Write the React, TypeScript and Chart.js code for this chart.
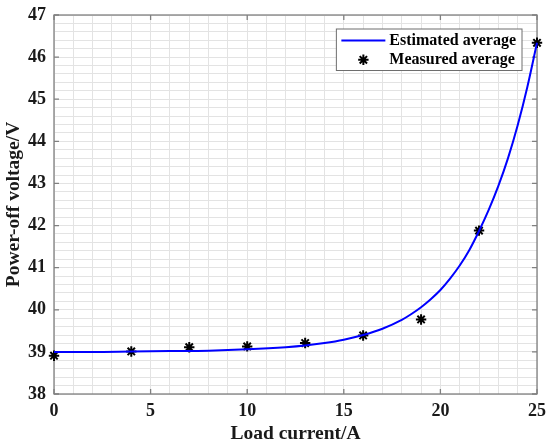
import React, { useEffect, useRef } from 'react';
import { Chart, registerables } from 'chart.js';

Chart.register(...registerables);

// ---- data ----
const measuredX = [0, 4, 7, 10, 13, 16, 19, 22, 25];
const measuredY = [38.91, 39.01, 39.11, 39.13, 39.21, 39.39, 39.77, 41.88, 46.34];

const estimatedX = [0, 2, 4, 6, 8, 10, 12, 13, 14, 15, 16, 17, 18, 18.5, 19, 19.5, 20, 20.5, 21, 21.5, 22, 22.5, 23, 23.5, 24, 24.5, 25];
const estimatedY = [39.0, 39.0, 39.01, 39.02, 39.03, 39.06, 39.11, 39.15, 39.21, 39.29, 39.4, 39.55, 39.76, 39.9, 40.06, 40.25, 40.47, 40.74, 41.05, 41.42, 41.87, 42.37, 42.94, 43.6, 44.38, 45.29, 46.34];

const xTickLabels = [0, 5, 10, 15, 20, 25];
const yTickLabels = [38, 39, 40, 41, 42, 43, 44, 45, 46, 47];

const seriesLabels = ['Estimated average', 'Measured average'];
const xTitle = 'Load current/A';
const yTitle = 'Power-off voltage/V';

const FAMILY = '"Liberation Serif", "Times New Roman", Times, serif';
const TEXT = '#1a1a1a';
const AXIS = '#808080';
const GRID = '#e3e3e3';

const framePlugin = {
  id: 'frame',
  beforeDatasetsDraw(chart: any) {
    const { ctx, chartArea: a, scales } = chart;
    ctx.save();
    ctx.strokeStyle = AXIS;
    ctx.lineWidth = 1.3;
    ctx.strokeRect(a.left, a.top, a.right - a.left, a.bottom - a.top);
    ctx.beginPath();
    const tl = 5;
    xTickLabels.forEach((v) => {
      const px = scales.x.getPixelForValue(v);
      ctx.moveTo(px, a.bottom);
      ctx.lineTo(px, a.bottom - tl);
      ctx.moveTo(px, a.top);
      ctx.lineTo(px, a.top + tl);
    });
    yTickLabels.forEach((v) => {
      const py = scales.y.getPixelForValue(v);
      ctx.moveTo(a.left, py);
      ctx.lineTo(a.left + tl, py);
      ctx.moveTo(a.right, py);
      ctx.lineTo(a.right - tl, py);
    });
    ctx.stroke();
    ctx.restore();
  },
};

const legendPlugin = {
  id: 'boxLegend',
  afterDraw(chart: any) {
    const { ctx, chartArea: a } = chart;
    const datasets = chart.data.datasets;
    ctx.save();
    ctx.font = `bold 16px ${FAMILY}`;
    const textW = Math.max(...datasets.map((d: any) => ctx.measureText(d.label).width));
    const padL = 5;
    const lineLen = 44;
    const gap = 4;
    const padR = 6;
    const w = padL + lineLen + gap + textW + padR;
    const h = 41.5;
    const x0 = a.right - 15 - w;
    const y0 = a.top + 14;
    ctx.fillStyle = '#ffffff';
    ctx.fillRect(x0, y0, w, h);
    ctx.strokeStyle = '#6e6e6e';
    ctx.lineWidth = 1;
    ctx.strokeRect(x0, y0, w, h);
    const rows = [y0 + 11.5, y0 + 30.8];
    // line sample
    ctx.strokeStyle = datasets[0].borderColor;
    ctx.lineWidth = datasets[0].borderWidth;
    ctx.beginPath();
    ctx.moveTo(x0 + padL, rows[0]);
    ctx.lineTo(x0 + padL + lineLen, rows[0]);
    ctx.stroke();
    // star sample
    const cx = x0 + padL + lineLen / 2;
    const cy = rows[1];
    const r = datasets[1].pointRadius;
    ctx.strokeStyle = datasets[1].borderColor;
    ctx.lineWidth = datasets[1].borderWidth;
    ctx.beginPath();
    for (let k = 0; k < 4; k++) {
      const ang = (k * Math.PI) / 4;
      ctx.moveTo(cx - r * Math.cos(ang), cy - r * Math.sin(ang));
      ctx.lineTo(cx + r * Math.cos(ang), cy + r * Math.sin(ang));
    }
    ctx.stroke();
    ctx.fillStyle = '#000000';
    ctx.textAlign = 'left';
    ctx.textBaseline = 'middle';
    datasets.forEach((d: any, i: number) => {
      ctx.fillText(d.label, x0 + padL + lineLen + gap, rows[i]);
    });
    ctx.restore();
  },
};

export default function App() {
  const ref = useRef<HTMLCanvasElement | null>(null);

  useEffect(() => {
    document.body.style.margin = '0';
    if (!ref.current) return;
    const chart = new Chart(ref.current, {
      type: 'scatter',
      data: {
        datasets: [
          {
            type: 'line',
            label: seriesLabels[0],
            data: estimatedX.map((x, i) => ({ x, y: estimatedY[i] })),
            borderColor: '#0000ff',
            borderWidth: 2,
            pointRadius: 0,
            cubicInterpolationMode: 'monotone',
            fill: false,
            clip: false,
          } as any,
          {
            type: 'scatter',
            label: seriesLabels[1],
            data: measuredX.map((x, i) => ({ x, y: measuredY[i] })),
            pointStyle: 'star',
            pointRadius: 5.2,
            pointHoverRadius: 5.2,
            borderColor: '#000000',
            backgroundColor: '#000000',
            borderWidth: 2,
            clip: false,
          } as any,
        ],
      },
      options: {
        responsive: false,
        animation: false,
        events: [],
        layout: { padding: { top: 15, right: 13, left: 0, bottom: 0 } },
        plugins: {
          legend: { display: false },
          tooltip: { enabled: false },
        },
        scales: {
          x: {
            type: 'linear',
            min: 0,
            max: 25,
            ticks: {
              stepSize: 1,
              autoSkip: false,
              maxRotation: 0,
              padding: 7,
              color: TEXT,
              font: { family: FAMILY, size: 18, weight: 'bold' },
              callback: (v: any) => (xTickLabels.includes(Number(v)) ? String(v) : ''),
            },
            grid: { color: GRID, lineWidth: 1, drawTicks: false },
            border: { display: false },
            title: {
              display: true,
              text: xTitle,
              color: TEXT,
              font: { family: FAMILY, size: 19.5, weight: 'bold' },
              padding: { top: 0, bottom: 1 },
            },
            afterFit: (s: any) => {
              s.height = 53;
              s.paddingLeft = 0;
              s.paddingRight = 0;
            },
          },
          y: {
            type: 'linear',
            min: 38,
            max: 47,
            ticks: {
              stepSize: 0.2,
              autoSkip: false,
              padding: 8,
              color: TEXT,
              font: { family: FAMILY, size: 18, weight: 'bold' },
              callback: (v: any) => {
                const n = Number(v);
                const r = Math.round(n);
                return Math.abs(n - r) < 1e-6 && yTickLabels.includes(r) ? String(r) : '';
              },
            },
            grid: { color: GRID, lineWidth: 1, drawTicks: false },
            border: { display: false },
            title: {
              display: true,
              text: yTitle,
              color: TEXT,
              font: { family: FAMILY, size: 19.5, weight: 'bold' },
              padding: { top: 2, bottom: 0 },
            },
            afterFit: (s: any) => {
              s.width = 54;
              s.paddingTop = 0;
              s.paddingBottom = 0;
            },
          },
        },
      } as any,
      plugins: [framePlugin, legendPlugin],
    });
    return () => chart.destroy();
  }, []);

  return (
    <div style={{ width: 550, height: 447 }}>
      <canvas ref={ref} width={550} height={447} />
    </div>
  );
}
